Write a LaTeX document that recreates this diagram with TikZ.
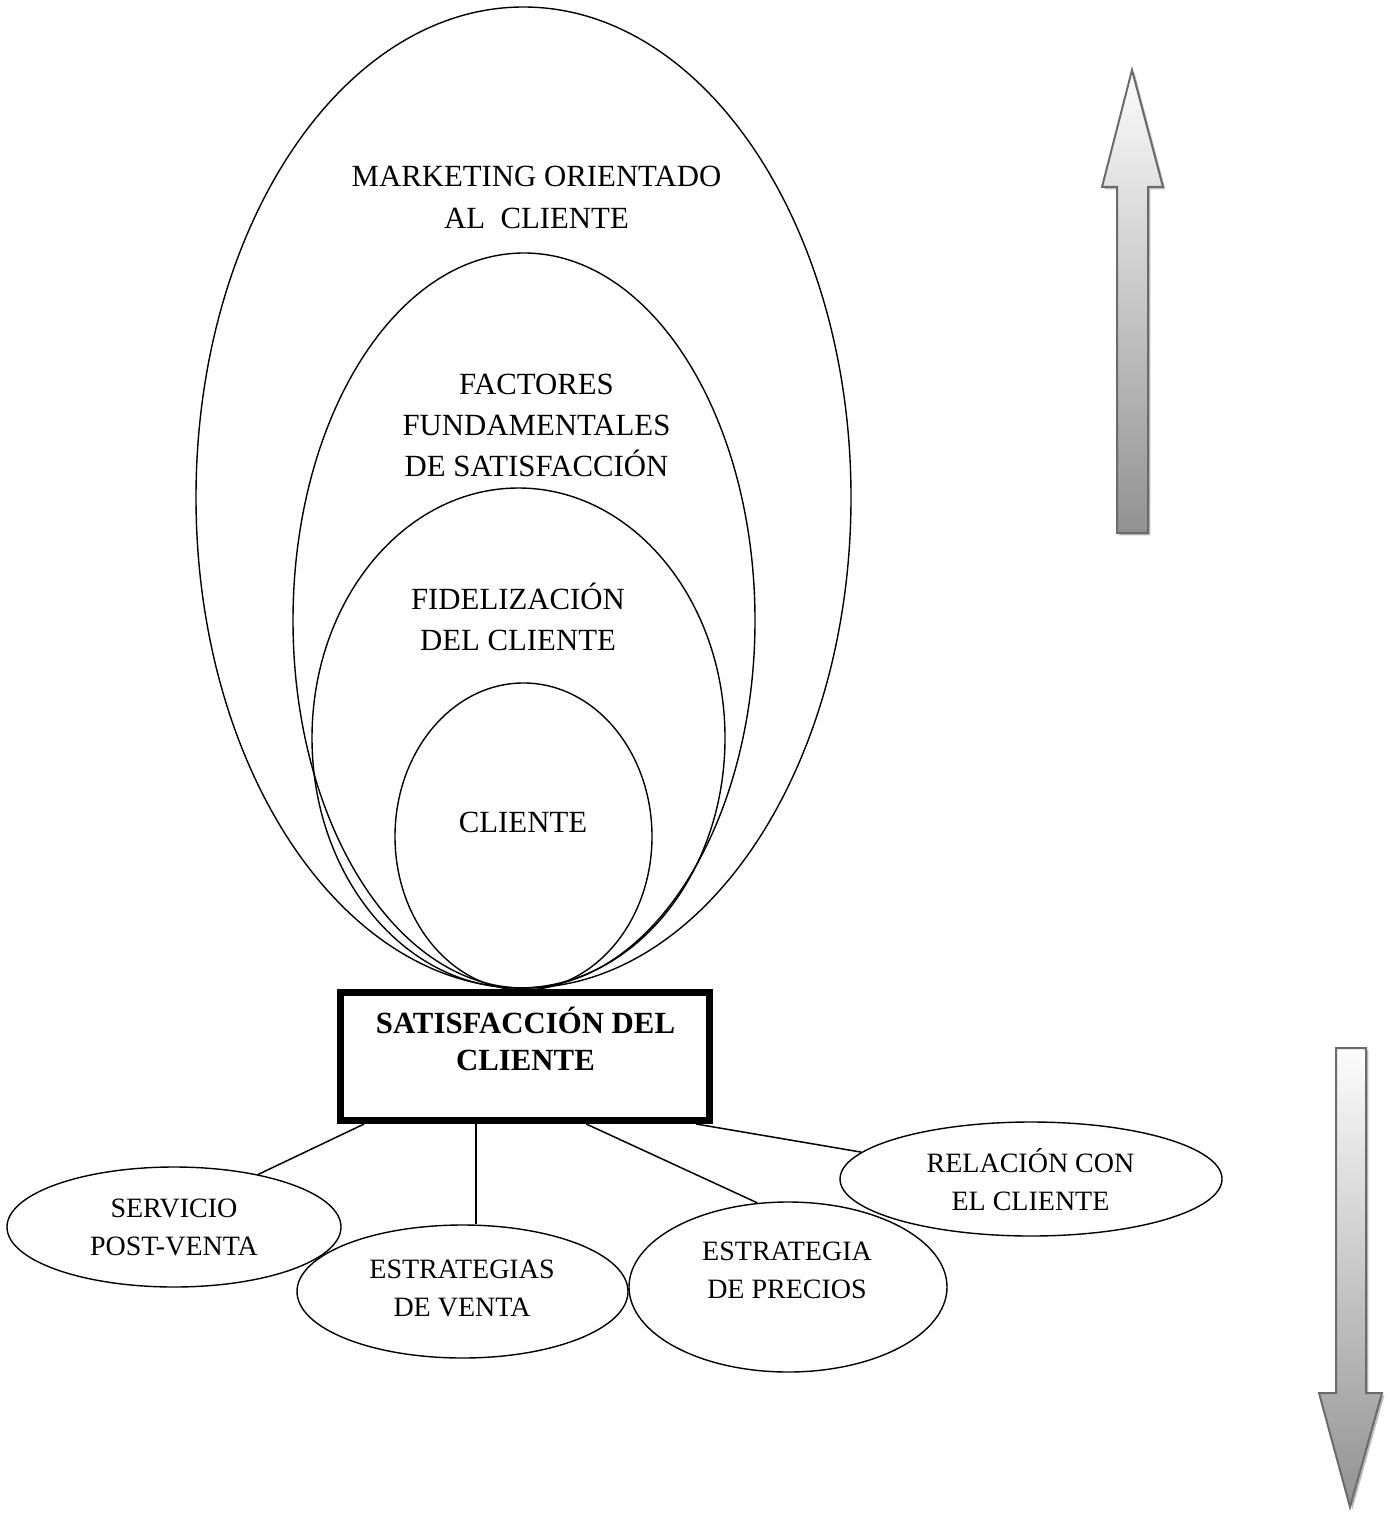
\documentclass[tikz,border=0pt]{standalone}
\usepackage{fontspec}
\setmainfont{Liberation Serif}
\usetikzlibrary{shapes.geometric,calc}
\definecolor{arrowedge}{HTML}{6B6B6B}
\definecolor{arrowtop}{HTML}{FCFCFC}
\definecolor{arrowbottom}{HTML}{929292}
\definecolor{shadowgray}{HTML}{BDBDBD}

\begin{document}
\begin{tikzpicture}[x=0.5pt,y=-0.5pt,
  ring/.style={draw,ellipse,inner sep=0pt,line width=0.7pt},
  bubble/.style={draw,ellipse,inner sep=0pt,line width=0.7pt},
  bigtext/.style={font=\fontsize{15.4}{20.6}\selectfont,align=center,inner sep=0pt},
  boxtext/.style={font=\fontsize{15.4}{18.6}\selectfont\bfseries,align=center,inner sep=0pt},
  smalltext/.style={font=\fontsize{14}{19}\selectfont,align=center,inner sep=0pt},
  keybox/.style={draw,line width=3.5pt,inner sep=0pt},
  link/.style={line width=0.75pt},
  bigarrow/.style={draw=arrowedge,line width=1pt,line join=miter,top color=arrowtop,bottom color=arrowbottom},
  arrowshadow/.style={fill=shadowgray}
]
\useasboundingbox (0,0) rectangle (1390,1513);

% nested ellipses, all touching at the bottom
\node[ring,minimum width=327.5pt,minimum height=490.5pt] (outer)   at (523.5,497.5) {};
\node[ring,minimum width=231pt,minimum height=367.5pt]   (factors) at (524,620.5) {};
\node[ring,minimum width=206.5pt,minimum height=250pt]   (loyalty) at (518.5,738) {};
\node[ring,minimum width=128.5pt,minimum height=153.5pt] (client)  at (523.5,836.5) {};

\node[bigtext] (outerlabel)   at (536.5,197.5) {MARKETING ORIENTADO\\AL\ \ CLIENTE};
\node[bigtext] (factorslabel) at (536.5,425.5) {FACTORES\\FUNDAMENTALES\\DE SATISFACCIÓN};
\node[bigtext] (loyaltylabel) at (518,617) {FIDELIZACIÓN\\DEL CLIENTE};
\node[bigtext] (clientlabel)  at (523,822) {CLIENTE};

% central box
\node[keybox,minimum width=184.5pt,minimum height=64pt] (box) at (525,1056.5) {};
\node[boxtext] (boxlabel) at (525.5,1039) {SATISFACCIÓN DEL\\CLIENTE};

% lower bubbles
\node[bubble,minimum width=167pt,minimum height=60pt]   (post)     at (174,1227) {};
\node[bubble,minimum width=165.5pt,minimum height=66.5pt] (ventas) at (462.5,1291.5) {};
\node[bubble,minimum width=159pt,minimum height=85pt]   (precios)  at (788,1287) {};
\node[bubble,minimum width=191pt,minimum height=57pt]   (relacion) at (1031,1179) {};

\node[smalltext] (postlabel)     at (174,1227.5) {SERVICIO\\POST-VENTA};
\node[smalltext] (ventaslabel)   at (462,1288) {ESTRATEGIAS\\DE VENTA};
\node[smalltext] (precioslabel)  at (787,1270) {ESTRATEGIA\\DE PRECIOS};
\node[smalltext] (relacionlabel) at (1030.5,1179.5) {RELACIÓN CON\\EL CLIENTE};

% connectors from the box
\coordinate (p1) at ($(box.south west)!0.072!(box.south east)$);
\coordinate (p2) at ($(box.south west)!0.37!(box.south east)$);
\coordinate (p3) at ($(box.south west)!0.663!(box.south east)$);
\coordinate (p4) at ($(box.south west)!0.955!(box.south east)$);
\draw[link] (p1) -- (post.32);
\draw[link] (p2) -- (p2 |- ventas.north);
\draw[link] (p3) -- (precios.110);
\draw[link] (p4) -- (relacion.171);

% upward block arrow
\path[arrowshadow,xshift=1.2pt,yshift=-1.2pt]
  (1132,70) -- (1163,187) -- (1148,187) -- (1148,533) -- (1117,533) -- (1117,187) -- (1102,187) -- cycle;
\path[bigarrow]
  (1132,70) -- (1163,187) -- (1148,187) -- (1148,533) -- (1117,533) -- (1117,187) -- (1102,187) -- cycle;

% downward block arrow
\path[arrowshadow,xshift=1.2pt,yshift=-1.2pt]
  (1336,1048) -- (1366,1048) -- (1366,1393) -- (1382,1393) -- (1350,1507) -- (1319,1393) -- (1336,1393) -- cycle;
\path[bigarrow]
  (1336,1048) -- (1366,1048) -- (1366,1393) -- (1382,1393) -- (1350,1507) -- (1319,1393) -- (1336,1393) -- cycle;
\end{tikzpicture}
\end{document}
